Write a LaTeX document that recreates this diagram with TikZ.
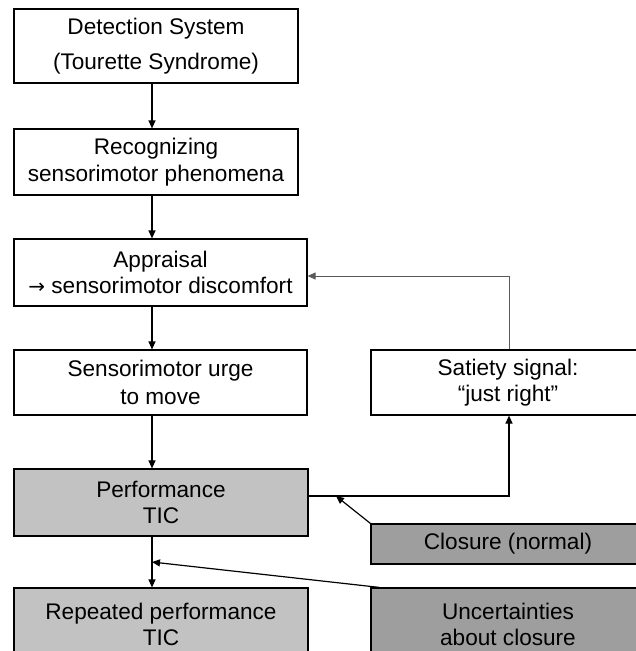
\documentclass[tikz,border=0pt]{standalone}
\usepackage{fontspec}
\setmainfont{Liberation Sans}
\newfontfamily\arrowfont{DejaVu Sans}
\usetikzlibrary{arrows.meta}
\definecolor{perfgray}{RGB}{194,194,194}
\definecolor{closegray}{RGB}{158,158,158}
\definecolor{fbgray}{RGB}{90,90,90}
\begin{document}
\begin{tikzpicture}[x=1pt,y=-1pt,
  box/.style={draw=black,line width=1.2pt,fill=white,inner sep=0pt,align=center,
    font=\fontsize{22.6}{26.5}\selectfont},
  perf/.style={box,fill=perfgray},
  closebox/.style={box,fill=closegray},
  arr/.style={draw=black,line width=1.2pt,-{Triangle[length=8pt,width=7pt]}},
  fbline/.style={draw=fbgray,line width=1pt,-{Triangle[length=8pt,width=7pt]}}]
\useasboundingbox (0,0) rectangle (636,651);
\clip (0,0) rectangle (636,651);
\fill[white] (0,0) rectangle (636,651);

% left column
\node[box,minimum width=284,minimum height=74,font=\fontsize{22.6}{35}\selectfont]
  (b1) at (156,46) {Detection System\\(Tourette Syndrome)};
\node[box,minimum width=284,minimum height=66] (b2) at (156,162)
  {Recognizing\\sensorimotor phenomena};
\node[box,minimum width=293,minimum height=67] (b3) at (160.5,272.5)
  {Appraisal\\{\arrowfont\fontsize{20}{20}\selectfont →} sensorimotor discomfort};
\node[box,minimum width=293,minimum height=65,font=\fontsize{22.6}{28}\selectfont]
  (b4) at (160.5,382.5) {Sensorimotor urge\\to move};
\node[perf,minimum width=294,minimum height=67] (b5) at (161,502.5)
  {Performance\\TIC};
\node[perf,minimum width=294,minimum height=73] (b6) at (161,624.5)
  {Repeated performance\\TIC};

% right column
\node[box,minimum width=274,minimum height=65] (sat) at (508,382.5)
  {Satiety signal:\\“just right”};
\node[closebox,minimum width=274,minimum height=40] (cl) at (508,544)
  {Closure (normal)};
\node[closebox,minimum width=274,minimum height=73] (un) at (508,624.5)
  {Uncertainties\\about closure};

% routing points
\coordinate (ax) at (152,0);
\coordinate (fb) at (509,276);
\coordinate (pt) at (509,496);
\coordinate (cj) at (336,496);
\coordinate (uj) at (152,562);

% main chain
\draw[arr] (b1.south -| ax) -- (b2.north -| ax);
\draw[arr] (b2.south -| ax) -- (b3.north -| ax);
\draw[arr] (b3.south -| ax) -- (b4.north -| ax);
\draw[arr] (b4.south -| ax) -- (b5.north -| ax);
\draw[arr] (b5.south -| ax) -- (b6.north -| ax);

% satiety loop
\draw[arr] (b5.east |- pt) -- (pt) -- (sat.south -| pt);
\draw[fbline] (sat.north -| fb) -- (fb) -- (fb -| b3.east);

% closure inputs
\draw[arr] (cl.north west) -- (cj);
\draw[arr] ([xshift=9pt]un.north west) -- (uj);
\end{tikzpicture}
\end{document}
